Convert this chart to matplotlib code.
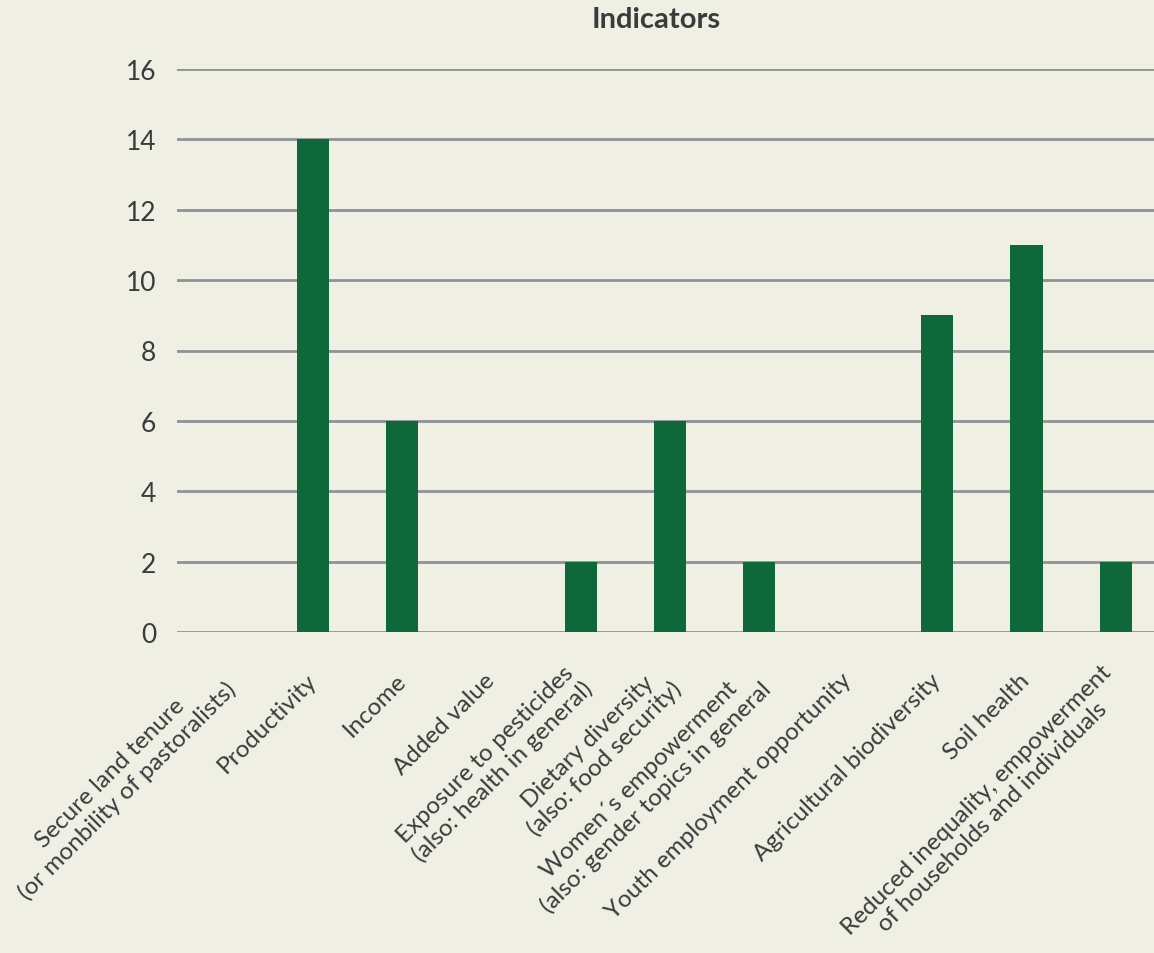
import matplotlib
matplotlib.use("Agg")
import matplotlib.pyplot as plt

categories = [
    "Secure land tenure\n(or monbility of pastoralists)",
    "Productivity",
    "Income",
    "Added value",
    "Exposure to pesticides\n(also: health in general)",
    "Dietary diversity\n(also: food security)",
    "Women\u00b4s empowerment\n(also: gender topics in general",
    "Youth employment opportunity",
    "Agricultural biodiversity",
    "Soil health",
    "Reduced inequality, empowerment\nof households and individuals",
]
values = [0, 14, 6, 0, 2, 6, 2, 0, 9, 11, 2]
yticks = [0, 2, 4, 6, 8, 10, 12, 14, 16]
title = "Indicators"

bg = "#f0efe4"
bar_color = "#0e683a"
grid_color = "#8f9297"
text_color = "#3b3b3d"

W, H = 1154, 954
fig = plt.figure(figsize=(W / 100, H / 100), dpi=100, facecolor=bg)
ax = fig.add_axes([177 / W, 1 - 633 / H, 1 - 177 / W, (633 - 70) / H])
ax.set_facecolor(bg)

x = list(range(len(categories)))
ax.bar(x, values, width=0.36, color=bar_color, zorder=3)

ax.set_ylim(0, 16)
ax.set_xlim(-0.527, 10.43)
ax.set_yticks(yticks)
ax.set_yticklabels([str(t) for t in yticks], fontsize=19, color=text_color,
                   family="Lato")
ax.yaxis.grid(True, color=grid_color, linewidth=2, zorder=1)
ax.tick_params(axis="y", length=0, pad=15)
ax.tick_params(axis="x", length=0, pad=32)
ax.set_xticks(x)
ax.set_xticklabels(categories, rotation=45, ha="right", va="center",
                   rotation_mode="anchor", fontsize=17.5, color=text_color,
                   family="Lato", multialignment="center",
                   linespacing=1.15)
for s in ax.spines.values():
    s.set_visible(False)

fig.text(656 / W, 1 - 20 / H, title, ha="center", va="center", fontsize=21,
         fontweight="bold", color=text_color, family="Lato")

fig.savefig("out.png", dpi=100, facecolor=bg)
